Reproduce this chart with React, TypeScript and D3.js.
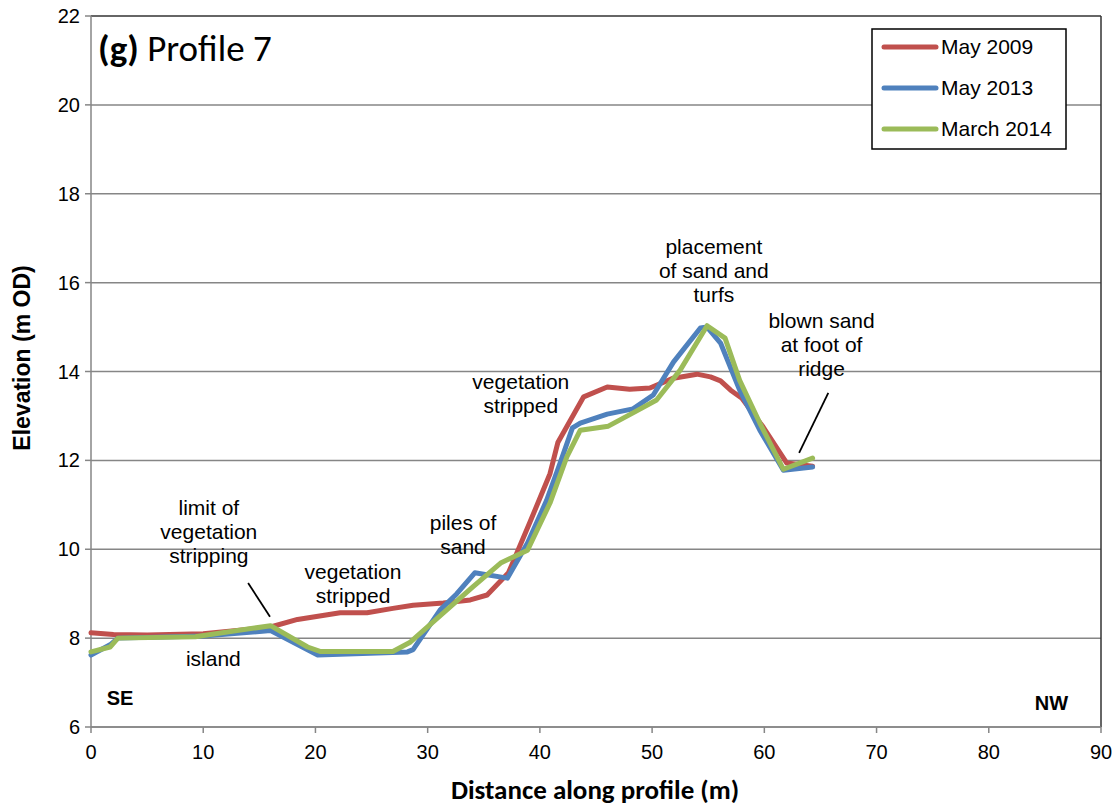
import React from 'react';
import * as d3 from 'd3';

// Profile 7 elevation surveys (distance m, elevation m OD)
const may2009: [number, number][] = [
  [0, 8.12], [2, 8.08], [5, 8.07], [10, 8.1], [13, 8.17], [16, 8.25], [18.4, 8.42],
  [22.2, 8.57], [24.6, 8.57], [26.9, 8.67], [28.7, 8.74], [31.4, 8.79], [33.8, 8.86],
  [35.3, 8.97], [37.2, 9.47], [39.1, 10.6], [40.9, 11.7], [41.6, 12.4], [43.9, 13.43],
  [46.0, 13.65], [48.0, 13.6], [49.8, 13.63], [51.9, 13.85], [54.0, 13.94], [55.2, 13.88],
  [56.1, 13.79], [57.0, 13.58], [58.0, 13.4], [59.9, 12.75], [62.0, 11.94], [64.3, 11.87],
];
const may2013: [number, number][] = [
  [0, 7.62], [1.7, 7.85], [2.4, 8.0], [10, 8.05], [16, 8.17], [20.2, 7.62], [28.2, 7.69],
  [28.7, 7.74], [31.1, 8.63], [32.6, 9.0], [34.2, 9.47], [37.1, 9.35], [38.9, 10.14],
  [40.6, 11.1], [41.8, 11.94], [42.9, 12.73], [43.6, 12.84], [46.0, 13.04], [48.3, 13.16],
  [50.1, 13.47], [51.9, 14.21], [54.3, 14.98], [54.9, 15.0], [56.1, 14.64], [57.8, 13.58],
  [59.6, 12.68], [61.7, 11.78], [64.3, 11.85],
];
const march2014: [number, number][] = [
  [0, 7.69], [1.7, 7.8], [2.4, 8.0], [9.3, 8.03], [16, 8.28], [19.3, 7.8], [20.4, 7.7],
  [26.9, 7.7], [28.4, 7.9], [31.4, 8.57], [34.0, 9.15], [36.5, 9.69], [38.9, 9.98],
  [40.9, 11.04], [42.4, 12.08], [43.6, 12.68], [46.1, 12.77], [48.3, 13.07], [50.4, 13.36],
  [52.5, 14.03], [54.9, 15.03], [56.5, 14.75], [57.8, 13.8], [59.6, 12.84], [61.7, 11.8],
  [64.3, 12.05],
];

const seriesNames = ['May 2009', 'May 2013', 'March 2014'];
const seriesColors = ['#C0504D', '#4F81BD', '#9BBB59'];
const xTicks = [0, 10, 20, 30, 40, 50, 60, 70, 80, 90];
const yTicks = [6, 8, 10, 12, 14, 16, 18, 20, 22];

// annotations: x (m), y (m OD) of first baseline, lines
const notes: { x: number; y: number; lines: string[] }[] = [
  { x: 55.5, y: 16.64, lines: ['placement', 'of sand and', 'turfs'] },
  { x: 65.1, y: 14.98, lines: ['blown sand', 'at foot of', 'ridge'] },
  { x: 38.3, y: 13.6, lines: ['vegetation', 'stripped'] },
  { x: 33.15, y: 10.44, lines: ['piles of', 'sand'] },
  { x: 10.5, y: 10.77, lines: ['limit of', 'vegetation', 'stripping'] },
  { x: 23.35, y: 9.33, lines: ['vegetation', 'stripped'] },
  { x: 10.9, y: 7.37, lines: ['island'] },
];
const pointers: [number, number, number, number][] = [
  [65.7, 13.52, 63.1, 12.17],
  [14.0, 9.24, 15.95, 8.48],
];

const W = 1117;
const H = 807;
const left = 91;
const right = 1101;
const top = 16;
const bottom = 727;

export default function App() {
  const x = d3.scaleLinear().domain([0, 90]).range([left, right]);
  const y = d3.scaleLinear().domain([6, 22]).range([bottom, top]);
  const line = d3.line<[number, number]>().x(d => x(d[0])).y(d => y(d[1]));
  const data = [may2009, may2013, march2014];
  const sans = 'Arial, "Liberation Sans", sans-serif';
  const cal = 'Carlito, Calibri, Lato, sans-serif';

  return (
    <svg width={W} height={H} style={{ position: 'absolute', left: 0, top: 0, background: '#fff' }}>
      {/* gridlines */}
      {yTicks.map(t => (
        <line key={t} x1={left} x2={right} y1={y(t)} y2={y(t)} stroke={t === 22 ? '#333' : '#868686'} strokeWidth={1.5} />
      ))}
      {/* axes */}
      <line x1={left} x2={left} y1={top} y2={bottom} stroke="#868686" strokeWidth={1.5} />
      <line x1={right} x2={right} y1={top} y2={bottom} stroke="#333" strokeWidth={1.5} />
      <line x1={left} x2={right} y1={bottom} y2={bottom} stroke="#868686" strokeWidth={1.5} />
      {yTicks.map(t => (
        <g key={t}>
          <line x1={left - 6} x2={left} y1={y(t)} y2={y(t)} stroke="#868686" strokeWidth={1.5} />
          <text x={left - 11} y={y(t) + 7} textAnchor="end" fontFamily={sans} fontSize={20} fill="#000">{t}</text>
        </g>
      ))}
      {xTicks.map(t => (
        <g key={t}>
          <line x1={x(t)} x2={x(t)} y1={bottom} y2={bottom + 6} stroke="#868686" strokeWidth={1.5} />
          <text x={x(t)} y={bottom + 32} textAnchor="middle" fontFamily={sans} fontSize={20} fill="#000">{t}</text>
        </g>
      ))}

      {/* series */}
      {data.map((d, i) => (
        <path key={i} d={line(d) || ''} fill="none" stroke={seriesColors[i]} strokeWidth={5} strokeLinejoin="round" strokeLinecap="round" />
      ))}

      {/* annotations */}
      {notes.map((n, i) => (
        <text key={i} x={x(n.x)} y={y(n.y)} textAnchor="middle" fontFamily={sans} fontSize={21} fill="#000">
          {n.lines.map((l, j) => (
            <tspan key={j} x={x(n.x)} dy={j === 0 ? 0 : 24}>{l}</tspan>
          ))}
        </text>
      ))}
      {pointers.map((p, i) => (
        <line key={i} x1={x(p[0])} y1={y(p[1])} x2={x(p[2])} y2={y(p[3])} stroke="#000" strokeWidth={1.8} />
      ))}
      <text x={x(1.4)} y={705} fontFamily={sans} fontSize={20} fontWeight="bold">SE</text>
      <text x={x(84.1)} y={710} fontFamily={sans} fontSize={20} fontWeight="bold">NW</text>

      {/* title */}
      <text x={left + 7} y={61} fontFamily={cal} fontSize={37} fill="#000">
        <tspan fontWeight="bold">(g)</tspan> Profile 7
      </text>

      {/* legend */}
      <rect x={872} y={29} width={194} height={120} fill="#fff" stroke="#000" strokeWidth={1.5} />
      {seriesNames.map((s, i) => (
        <g key={s}>
          <line x1={884} x2={936} y1={47 + i * 41} y2={47 + i * 41} stroke={seriesColors[i]} strokeWidth={5} strokeLinecap="round" />
          <text x={941} y={54 + i * 41} fontFamily={sans} fontSize={21} fill="#000">{s}</text>
        </g>
      ))}

      {/* axis titles */}
      <text transform={`translate(30, 358) rotate(-90)`} textAnchor="middle" fontFamily={sans} fontSize={23} fontWeight="bold">
        Elevation (m OD)
      </text>
      <text x={595} y={799} textAnchor="middle" fontFamily={cal} fontSize={27} fontWeight="bold">
        Distance along profile (m)
      </text>
    </svg>
  );
}
